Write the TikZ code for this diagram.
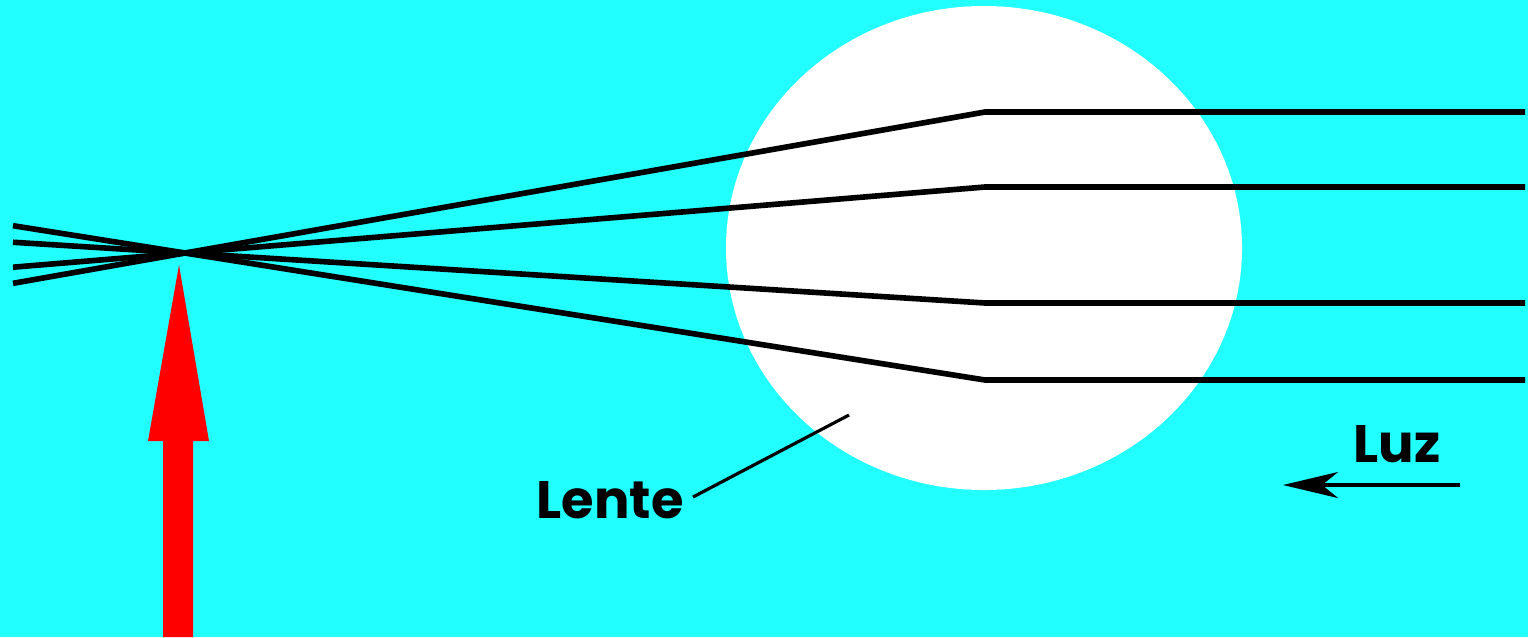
\documentclass[tikz,border=0pt]{standalone}
\usepackage{fontspec}
\setmainfont{Poppins}
\usepackage{tikz}
\usetikzlibrary{positioning,arrows.meta,calc}
\usepackage{xcolor}
\definecolor{skycyan}{RGB}{34,255,255}
\definecolor{arrowred}{RGB}{255,0,0}
\tikzset{
  ray/.style={draw=black, line width=1.6pt, line join=miter},
  leader/.style={draw=black, line width=0.9pt},
  labeltext/.style={font=\fontsize{15}{18}\selectfont\bfseries, text=black, inner sep=0pt},
  lightarrow/.style={-{Stealth[length=5.5mm,width=2.6mm,inset=1.6mm]}, line width=0.9pt}
}

\begin{document}
\begin{tikzpicture}
  % background and frame
  \fill[skycyan] (0,0) rectangle (15.28,6.37);
  \useasboundingbox (0,0) rectangle (15.28,6.37);

  % lens
  \fill[white] (9.84,3.89) ellipse [x radius=2.58, y radius=2.42];

  % focus
  \coordinate (focus) at (1.85,3.84);

  % rays
  \foreach \yy [count=\i] in {5.25,4.50,3.34,2.57} {
    \coordinate (in\i) at (15.25,\yy);
    \coordinate (bend\i) at (9.85,\yy);
    \coordinate (out\i) at ($(bend\i)!1.215!(focus)$);
    \draw[ray] (in\i) -- (bend\i) -- (out\i);
  }

  % red arrow
  \fill[arrowred] (1.63,0) -- (1.63,1.96) -- (1.48,1.96) -- (1.79,3.72)
    -- (2.09,1.96) -- (1.93,1.96) -- (1.93,0) -- cycle;

  % labels
  \node[labeltext] (lente) at (6.10,1.37) {Lente};
  \coordinate (lenspt) at (8.49,2.22);
  \draw[leader] (6.93,1.40) -- (lenspt);

  \node[labeltext] (luz) at (13.97,1.93) {Luz};
  \coordinate (luzstart) at (14.60,1.52);
  \coordinate (luzend) at (12.83,1.52);
  \draw[lightarrow] (luzstart) -- (luzend);
\end{tikzpicture}
\end{document}
